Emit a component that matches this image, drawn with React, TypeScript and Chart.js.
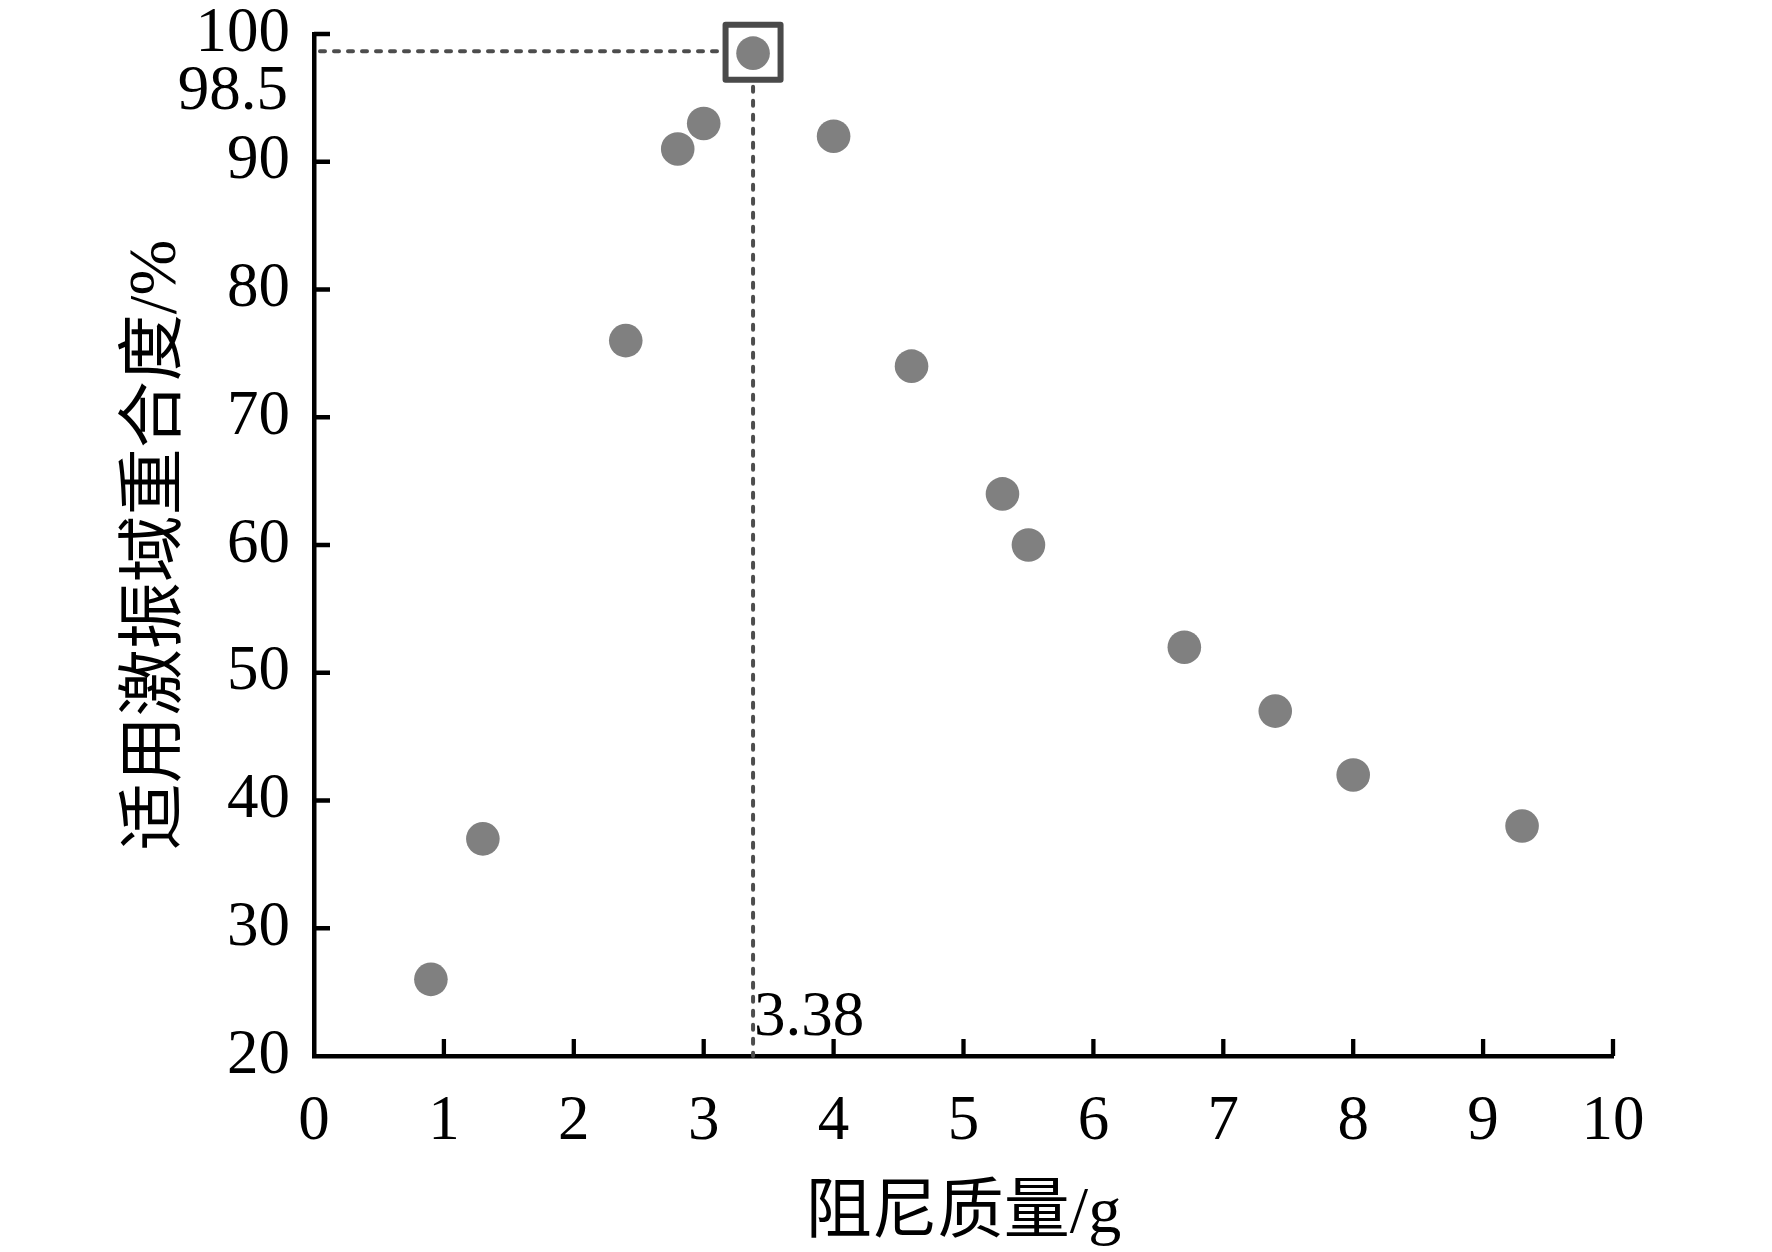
import { useEffect, useRef } from "react";
import { Chart, registerables } from "chart.js";

Chart.register(...registerables);

// 阻尼质量 (g) vs 适用激振域重合度 (%)
const massX = [0.9, 1.3, 2.4, 2.8, 3.0, 3.38, 4.0, 4.6, 5.3, 5.5, 6.7, 7.4, 8.0, 9.3];
const overlapY = [26, 37, 76, 91, 93, 98.5, 92, 74, 64, 60, 52, 47, 42, 38];

// optimum point marked with the box and dashed guides
const optimumX = 3.38;
const optimumY = 98.5;
const optimumXLabel = "3.38";
const optimumYLabel = "98.5";

const xTitle = "阻尼质量/g";
const yTitle = "适用激振域重合度/%";

const serif = '"Liberation Serif", "Noto Sans CJK SC", serif';

// keep the chart area fixed: no extra room for overhanging tick labels
const fixScale = (size: number) => (scale: any) => {
    if (scale.isHorizontal()) scale.height = size;
    else scale.width = size;
    scale.paddingTop = 0;
    scale.paddingBottom = 0;
    scale.paddingLeft = 0;
    scale.paddingRight = 0;
};

const optimumPlugin = {
    id: "optimumMark",
    beforeDatasetsDraw(chart: any) {
        const { ctx, chartArea, scales } = chart;
        const px = scales.x.getPixelForValue(optimumX);
        const py = scales.y.getPixelForValue(optimumY);
        const half = 27.5;
        ctx.save();
        ctx.strokeStyle = "#4d4d4d";
        ctx.lineWidth = 4;
        ctx.lineCap = "round";
        ctx.setLineDash([5, 9]);
        ctx.beginPath();
        ctx.moveTo(chartArea.left + 6, py - 2);
        ctx.lineTo(px - half - 4, py - 2);
        ctx.moveTo(px, py + half + 6);
        ctx.lineTo(px, chartArea.bottom);
        ctx.stroke();
        ctx.setLineDash([]);
        ctx.lineCap = "butt";
        ctx.strokeStyle = "#4a4a4a";
        ctx.lineWidth = 6;
        ctx.lineJoin = "round";
        ctx.strokeRect(px - half, py - half - 1, half * 2, half * 2);
        ctx.restore();
    },
    afterDraw(chart: any) {
        const { ctx, chartArea, scales } = chart;
        const { x, y } = scales;
        ctx.save();
        // inward tick marks
        ctx.strokeStyle = "#000";
        ctx.lineWidth = 4.3;
        ctx.beginPath();
        x.ticks.forEach((t: any) => {
            if (t.value === x.min) return;
            const p = x.getPixelForValue(t.value);
            ctx.moveTo(p, chartArea.bottom);
            ctx.lineTo(p, chartArea.bottom - 17);
        });
        y.ticks.forEach((t: any) => {
            if (t.value === y.min) return;
            const p = y.getPixelForValue(t.value);
            ctx.moveTo(chartArea.left, p);
            ctx.lineTo(chartArea.left + 16, p);
        });
        ctx.stroke();

        // value labels for the optimum
        ctx.fillStyle = "#000";
        ctx.font = `63px ${serif}`;
        ctx.textAlign = "left";
        ctx.textBaseline = "alphabetic";
        ctx.fillText(optimumXLabel, x.getPixelForValue(optimumX) + 1, chartArea.bottom - 21);
        ctx.textAlign = "right";
        ctx.textBaseline = "middle";
        ctx.fillText(optimumYLabel, chartArea.left - 26, y.getPixelForValue(y.max) + 58);
        ctx.restore();
    },
};

export default function App() {
    const canvasRef = useRef<HTMLCanvasElement | null>(null);
    const chartInstance = useRef<Chart | null>(null);

    useEffect(() => {
        if (!canvasRef.current) return;
        const ctx = canvasRef.current.getContext("2d");
        if (!ctx) return;

        chartInstance.current = new Chart(ctx, {
            type: "scatter",
            data: {
                datasets: [
                    {
                        label: "重合度",
                        data: massX.map((m, i) => ({ x: m, y: overlapY[i] })),
                        backgroundColor: "#808080",
                        borderWidth: 0,
                        pointRadius: 16.8,
                        pointHoverRadius: 16.8,
                    },
                ],
            },
            plugins: [optimumPlugin],
            options: {
                responsive: false,
                animation: false,
                devicePixelRatio: 1,
                layout: { padding: { top: 34, right: 159, left: 0, bottom: 0 } },
                plugins: {
                    legend: { display: false },
                    tooltip: { enabled: false },
                },
                scales: {
                    x: {
                        type: "linear",
                        min: 0,
                        max: 10,
                        afterFit: fixScale(196),
                        border: { display: true, color: "#000", width: 4.5 },
                        grid: { display: false, drawTicks: false },
                        ticks: {
                            stepSize: 1,
                            padding: 29,
                            color: "#000",
                            maxRotation: 0,
                            font: { family: serif, size: 63 },
                        },
                        title: {
                            display: true,
                            text: xTitle,
                            color: "#000",
                            font: { family: serif, size: 66 },
                            padding: { top: 0, bottom: -2 },
                        },
                    },
                    y: {
                        type: "linear",
                        min: 20,
                        max: 100,
                        afterFit: fixScale(314),
                        border: { display: true, color: "#000", width: 4.5 },
                        grid: { display: false, drawTicks: false },
                        ticks: {
                            stepSize: 10,
                            padding: 24,
                            color: "#000",
                            font: { family: serif, size: 63 },
                        },
                        title: {
                            display: true,
                            text: yTitle,
                            color: "#000",
                            font: { family: serif, size: 67 },
                            padding: { top: 117, bottom: 0 },
                        },
                    },
                },
            },
        });

        return () => {
            if (chartInstance.current) {
                chartInstance.current.destroy();
                chartInstance.current = null;
            }
        };
    }, []);

    return (
        <div style={{ position: "absolute", left: 0, top: 0, width: 1772, height: 1252, background: "#fff" }}>
            <canvas ref={canvasRef} width={1772} height={1252} style={{ display: "block" }} />
        </div>
    );
}
